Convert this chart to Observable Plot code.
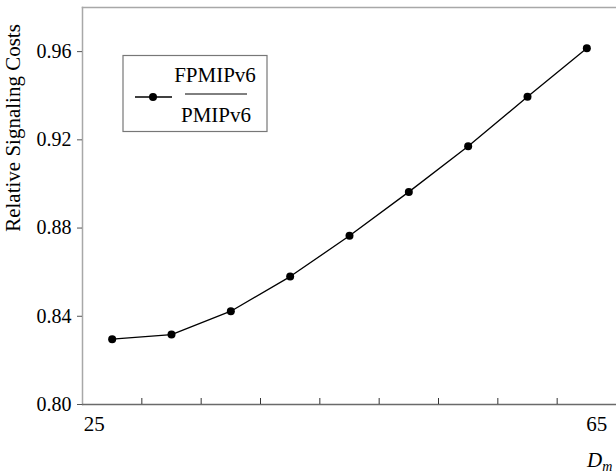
<!DOCTYPE html>
<html><head><meta charset="utf-8">
<script src="https://cdn.jsdelivr.net/npm/d3@7"></script>
<script src="https://cdn.jsdelivr.net/npm/@observablehq/plot@0.6"></script>
<style>html,body{margin:0;padding:0;background:#fff} svg{display:block}</style>
</head><body><div id="chart"></div>
<script>
// ---- data ----
const categories = [25, 30, 35, 40, 45, 50, 55, 60, 65];
const ratio = [0.8296, 0.8317, 0.8423, 0.858, 0.8765, 0.8964, 0.9171, 0.9395, 0.9615];
const yTicks = [0.80, 0.84, 0.88, 0.92, 0.96];
const xLabelFirst = [25];
const xLabelLast = [65];
const yTitle = "Relative Signaling Costs";
const seriesNum = "FPMIPv6";
const seriesDen = "PMIPv6";
const xTitleMain = "D";
const xTitleSub = "m";

const data = categories.map((c, i) => ({x: c, y: ratio[i]}));
const step = categories[1] - categories[0];
const boundaries = d3.range(categories.length + 1).map(i => categories[0] - step / 2 + i * step);

const font = '"Liberation Serif"';
const W = 616, H = 475, mL = 82, mR = 0, mT = 7, mB = 71;
const plotH = H - mT - mB;

const chart = Plot.plot({
  width: W, height: H,
  marginLeft: mL, marginRight: mR, marginTop: mT, marginBottom: mB,
  style: {fontFamily: font, fontSize: "20px", color: "#000", background: "#fff"},
  x: {domain: [boundaries[0], boundaries[boundaries.length - 1]], axis: null},
  y: {domain: [0.80, 0.98], axis: null},
  marks: [
    Plot.frame({anchor: "top", stroke: "#a8a8a8", strokeWidth: 1.5}),
    Plot.frame({anchor: "left", stroke: "#a8a8a8", strokeWidth: 1.5}),
    Plot.ruleY([0.80], {stroke: "#6a6a6a", strokeWidth: 1.3}),
    Plot.ruleX(boundaries.slice(1, -1), {stroke: "#333", strokeWidth: 1, insetTop: plotH - 6}),
    Plot.axisY(yTicks, {tickFormat: d3.format(".2f"), tickSize: 5, tickPadding: 6, label: null, stroke: "#555", fontSize: 20}),
    Plot.axisX(xLabelFirst, {tickSize: 0, tickPadding: 12, dx: -18, label: null, fontSize: 21}),
    Plot.axisX(xLabelLast, {tickSize: 0, tickPadding: 12, dx: 10, label: null, fontSize: 21}),
    Plot.line(data, {x: "x", y: "y", stroke: "#000", strokeWidth: 1.3}),
    Plot.dot(data, {x: "x", y: "y", r: 4, fill: "#000", stroke: "none"})
  ]
});
document.getElementById("chart").appendChild(chart);

// ---- titles and legend ----
const svg = d3.select(chart);
svg.attr("font-family", "Liberation Serif");
const g = svg.append("g").attr("fill", "#000");

g.append("text")
  .attr("transform", "translate(20,128) rotate(-90)")
  .attr("text-anchor", "middle")
  .attr("font-size", 21)
  .text(yTitle);

const xt = g.append("text").attr("x", 587).attr("y", 467).attr("text-anchor", "start")
  .attr("font-size", 21).attr("font-style", "italic");
xt.append("tspan").text(xTitleMain);
xt.append("tspan").attr("font-size", 14).attr("dy", 4).text(xTitleSub);

const lg = g.append("g");
lg.append("rect").attr("x", 123).attr("y", 55.5).attr("width", 144).attr("height", 76)
  .attr("fill", "#fff").attr("stroke", "#777").attr("stroke-width", 1.2);
lg.append("line").attr("x1", 135).attr("x2", 172).attr("y1", 97).attr("y2", 97).attr("stroke", "#000").attr("stroke-width", 1.3);
lg.append("circle").attr("cx", 153).attr("cy", 97).attr("r", 4).attr("fill", "#000");
lg.append("text").attr("x", 215).attr("y", 82).attr("text-anchor", "middle").attr("font-size", 21).text(seriesNum);
lg.append("line").attr("x1", 185).attr("x2", 247).attr("y1", 94).attr("y2", 94).attr("stroke", "#000").attr("stroke-width", 1);
lg.append("text").attr("x", 216).attr("y", 122).attr("text-anchor", "middle").attr("font-size", 21).text(seriesDen);

svg.selectAll("text").style("font-family", font);
</script>
</body></html>
